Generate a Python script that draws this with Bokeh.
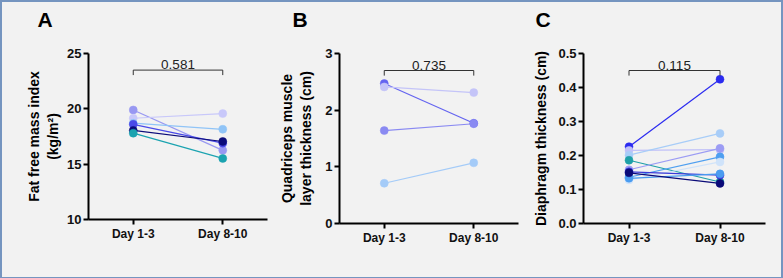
from bokeh.plotting import figure
from bokeh.layouts import row
from bokeh.models import FactorRange, Range1d, FixedTicker, NumeralTickFormatter
from bokeh.embed import file_html
from bokeh.resources import INLINE

# ---- data -------------------------------------------------------------
days = ["Day 1-3", "Day 8-10"]

# Panel A: fat free mass index (kg/m2), one pair per patient
ffmi_colors = ["#9898f2", "#c8c8fa", "#90c4f7", "#4a4ae8", "#0c0c7a", "#1ba3b0"]
ffmi_day1 = [19.9, 19.15, 18.7, 18.6, 18.05, 17.8]
ffmi_day8 = [16.25, 19.57, 18.15, 16.9, 17.05, 15.52]
ffmi_p = "0.581"

# Panel B: quadriceps muscle layer thickness (cm)
quad_colors = ["#6464f0", "#c4c4f8", "#8a8af2", "#a4cbf8"]
quad_day1 = [2.47, 2.41, 1.64, 0.71]
quad_day8 = [1.77, 2.31, 1.76, 1.07]
quad_p = "0.735"

# Panel C: diaphragm thickness (cm)
dia_colors = ["#2b2bf0", "#c0c0f8", "#a8cdf8", "#1ea0a8", "#9c9cf4",
              "#4e9ff0", "#cfe3fa", "#3b3bd8", "#4a9cf0", "#0a0a78"]
dia_day1 = [0.226, 0.215, 0.201, 0.186, 0.158, 0.136, 0.128, 0.152, 0.133, 0.149]
dia_day8 = [0.424, 0.217, 0.265, 0.122, 0.221, 0.196, 0.181, 0.142, 0.146, 0.118]
dia_p = "0.115"

BG = "#f2f2f2"
FONT = "Liberation Sans"


def panel(letter, ytitle, title_standoff, y_lo, y_hi, ticks, fmt,
          colors, d1, d2, pval, left, right, top, fw, fh, letter_offset):
    p = figure(x_range=FactorRange(factors=days), y_range=Range1d(y_lo, y_hi),
               frame_width=fw, frame_height=fh,
               min_border_left=left, min_border_right=right,
               min_border_top=top, min_border_bottom=274 - top - fh,
               output_backend="svg", toolbar_location=None,
               background_fill_color=BG, border_fill_color=BG,
               outline_line_color=None, title=letter + "\n ")
    p.grid.visible = False

    # panel letter (the blank second line lifts it off the plot area)
    p.title.text_font = FONT
    p.title.text_font_style = "bold"
    p.title.text_font_size = "21px"
    p.title.text_color = "black"
    p.title.align = "left"
    p.title.offset = letter_offset
    p.title.standoff = 0

    for ax in (p.xaxis[0], p.yaxis[0]):
        ax.axis_line_width = 2
        ax.axis_line_color = "black"
        ax.major_tick_line_width = 2
        ax.major_tick_line_color = "black"
        ax.major_tick_out = 5
        ax.major_tick_in = 0
        ax.minor_tick_line_color = None
        ax.major_label_text_font = FONT
        ax.major_label_text_font_style = "bold"
        ax.major_label_text_color = "#111111"
    p.xaxis.major_label_text_font_size = "12px"
    p.yaxis.major_label_text_font_size = "13px"
    p.xaxis.major_label_standoff = 2
    p.yaxis.major_label_standoff = 2
    p.yaxis.ticker = FixedTicker(ticks=ticks)
    if fmt:
        p.yaxis.formatter = NumeralTickFormatter(format=fmt)

    # y axis title
    p.yaxis.axis_label = ytitle
    p.yaxis.axis_label_text_font = FONT
    p.yaxis.axis_label_text_font_style = "bold"
    p.yaxis.axis_label_text_font_size = "14px"
    p.yaxis.axis_label_text_color = "black"
    p.yaxis.axis_label_standoff = title_standoff

    # paired lines and points, one colour per patient
    for c, a, b in zip(colors, d1, d2):
        p.line(x=days, y=[a, b], line_color=c, line_width=1.2)
    for c, a, b in zip(colors, d1, d2):
        p.scatter(x=days, y=[a, b], size=8, fill_color=c, line_color=c, line_width=0.5)

    # comparison bracket with p-value
    span = y_hi - y_lo
    yb = y_hi - 0.10 * span
    tick = 0.03 * span
    p.line(x=[days[0], days[0], days[1], days[1]], y=[yb - tick, yb, yb, yb - tick],
           line_color="#333333", line_width=1)
    p.text(x=[1.0], y=[yb], text=[pval], text_align="center", text_baseline="bottom",
           y_offset=-1, text_font_size="13.5px", text_color="#222222",
           text_font={"value": FONT})
    return p


pA = panel("A", "Fat free mass index\n(kg/m\u00b2)", 3,
           10, 25, [10, 15, 20, 25], None, ffmi_colors, ffmi_day1, ffmi_day8, ffmi_p,
           left=86, right=5, top=51, fw=179, fh=166, letter_offset=-51)
pB = panel("B", "Quadriceps muscle\nlayer thickness (cm)", 8,
           0, 3, [0, 1, 2, 3], None, quad_colors, quad_day1, quad_day8, quad_p,
           left=67, right=7, top=47, fw=179, fh=170, letter_offset=-47)
pC = panel("C", "Diaphragm thickness (cm)", 6,
           0, 0.5, [0, 0.1, 0.2, 0.3, 0.4, 0.5], "0.0", dia_colors, dia_day1, dia_day8, dia_p,
           left=58, right=16, top=47, fw=182, fh=170, letter_offset=-48)

layout = row(pA, pB, pC, styles={"border": "2px solid #7595c0", "background-color": BG})

open("out.html", "w").write(file_html(layout, INLINE))
